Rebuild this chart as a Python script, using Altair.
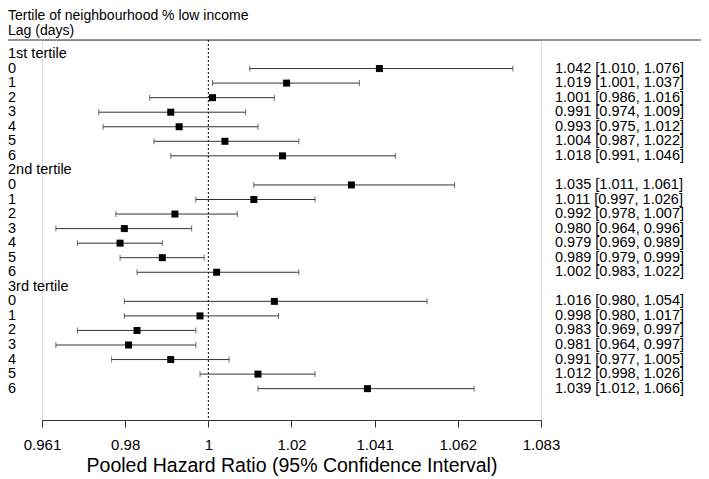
import math
import altair as alt
import pandas as pd

groups = ["1st tertile", "2nd tertile", "3rd tertile"]
lags = ["0", "1", "2", "3", "4", "5", "6"]

hr_1 = [1.042, 1.019, 1.001, 0.991, 0.993, 1.004, 1.018]
lo_1 = [1.010, 1.001, 0.986, 0.974, 0.975, 0.987, 0.991]
hi_1 = [1.076, 1.037, 1.016, 1.009, 1.012, 1.022, 1.046]

hr_2 = [1.035, 1.011, 0.992, 0.980, 0.979, 0.989, 1.002]
lo_2 = [1.011, 0.997, 0.978, 0.964, 0.969, 0.979, 0.983]
hi_2 = [1.061, 1.026, 1.007, 0.996, 0.989, 0.999, 1.022]

hr_3 = [1.016, 0.998, 0.983, 0.981, 0.991, 1.012, 1.039]
lo_3 = [0.980, 0.980, 0.969, 0.964, 0.977, 0.998, 1.012]
hi_3 = [1.054, 1.017, 0.997, 0.997, 1.005, 1.026, 1.066]

header_lines = ["Tertile of neighbourhood % low income", "Lag (days)"]
tick_exponents = [-0.04, -0.02, 0.0, 0.02, 0.04, 0.06, 0.08]
x_title = "Pooled Hazard Ratio (95% Confidence Interval)"

FONT = "Liberation Sans"

# build tables
est_rows = []
label_rows = []
r = 0
for g, hrs, los, his in zip(groups, [hr_1, hr_2, hr_3], [lo_1, lo_2, lo_3], [hi_1, hi_2, hi_3]):
    label_rows.append({"row": r, "label": g})
    r += 1
    for lag, h, l, u in zip(lags, hrs, los, his):
        est_rows.append({"row": r, "hr": h, "lo": l, "hi": u,
                         "txt": f"{h:.3f} [{l:.3f}, {u:.3f}]"})
        label_rows.append({"row": r, "label": lag})
        r += 1

est = pd.DataFrame(est_rows)
labels = pd.DataFrame(label_rows)

W, H = 499, 380
STEP = 14.55
FIRST = 14.0
y_lo = -FIRST / STEP
y_hi = y_lo + H / STEP

tick_vals = [math.exp(e) for e in tick_exponents]
x_scale = alt.Scale(type="log", domain=[tick_vals[0], tick_vals[-1]], nice=False, zero=False)
y_scale = alt.Scale(domain=[y_lo, y_hi], reverse=True, nice=False, zero=False)

LINE = "#333333"

x_axis = alt.Axis(values=tick_vals, format=".3~f", title=x_title, grid=False,
                  labelFont=FONT, labelFontSize=15, labelColor="black", labelPadding=10,
                  tickSize=7, tickColor=LINE, domainColor=LINE,
                  titleFont=FONT, titleFontSize=19.5, titleFontWeight="normal",
                  titleColor="black", titlePadding=4, labelFlush=False)

base = alt.Chart(est)
y_enc = alt.Y("row:Q", scale=y_scale, axis=None)

bars = base.mark_rule(color=LINE, strokeWidth=1).encode(
    x=alt.X("lo:Q", scale=x_scale, axis=x_axis), x2="hi:Q", y=y_enc)
cap_lo = base.mark_tick(orient="vertical", size=6, thickness=1, color=LINE).encode(
    x=alt.X("lo:Q", scale=x_scale), y=y_enc)
cap_hi = base.mark_tick(orient="vertical", size=6, thickness=1, color=LINE).encode(
    x=alt.X("hi:Q", scale=x_scale), y=y_enc)
squares = base.mark_square(size=49, color="black", opacity=1).encode(
    x=alt.X("hr:Q", scale=x_scale), y=y_enc)
right_txt = base.mark_text(align="left", baseline="middle", font=FONT, fontSize=14.5,
                           color="black").encode(
    x=alt.value(513), y=y_enc, text="txt:N")

left_txt = alt.Chart(labels).mark_text(align="left", baseline="middle", font=FONT,
                                       fontSize=14.5, color="black").encode(
    x=alt.value(-34), y=alt.Y("row:Q", scale=y_scale, axis=None), text="label:N")

hdr = pd.DataFrame({"label": header_lines, "ypos": [-24.0, -9.5]})
header = alt.Chart(hdr).mark_text(align="left", baseline="middle", font=FONT,
                                  fontSize=14, color="black").encode(
    x=alt.value(-34), y=alt.Y("ypos:Q", scale=None), text="label:N")

hline = alt.Chart(pd.DataFrame({"a": [0]})).mark_rule(color=LINE, strokeWidth=1).encode(
    x=alt.value(-34), x2=alt.value(659), y=alt.value(0))

ref = alt.Chart(pd.DataFrame({"x": [1.0]})).mark_rule(
    color="black", strokeWidth=1, strokeDash=[2, 2]).encode(
    x=alt.X("x:Q", scale=x_scale), y=alt.value(0), y2=alt.value(H))

chart = alt.layer(ref, bars, cap_lo, cap_hi, squares, right_txt, left_txt, header, hline).properties(
    width=W, height=H,
    padding={"left": 34, "top": 32, "right": 160, "bottom": 59},
    autosize="none",
).configure_view(stroke=None).configure(background="white")

chart.save("out.html", embed_options={"renderer": "svg", "actions": False})
